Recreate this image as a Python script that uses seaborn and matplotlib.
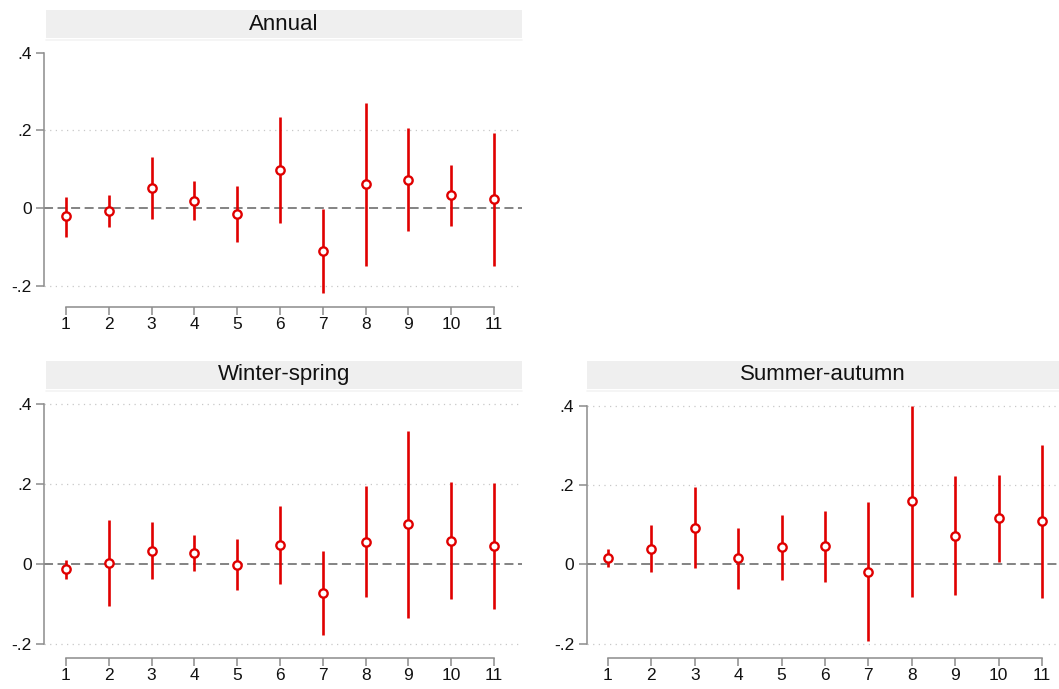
import numpy as np
import pandas as pd
import matplotlib
matplotlib.use("Agg")
import matplotlib.pyplot as plt
from matplotlib.patches import Rectangle
import seaborn as sns

sns.set_theme(style="white")
plt.rcParams["font.family"] = ["Liberation Sans", "DejaVu Sans"]

lags = list(range(1, 12))
tick_labels = [".4", ".2", "0", "-.2"]

annual_coef = [-0.021, -0.007, 0.051, 0.019, -0.015, 0.098, -0.111, 0.061, 0.073, 0.033, 0.022]
annual_lo = [-0.074, -0.048, -0.028, -0.031, -0.087, -0.038, -0.218, -0.149, -0.058, -0.045, -0.149]
annual_hi = [0.029, 0.033, 0.131, 0.069, 0.057, 0.235, -0.003, 0.271, 0.206, 0.111, 0.194]

winter_coef = [-0.013, 0.002, 0.033, 0.028, -0.002, 0.048, -0.072, 0.055, 0.099, 0.057, 0.044]
winter_lo = [-0.037, -0.106, -0.038, -0.018, -0.066, -0.051, -0.177, -0.084, -0.135, -0.089, -0.114]
winter_hi = [0.009, 0.111, 0.104, 0.073, 0.063, 0.145, 0.033, 0.195, 0.334, 0.205, 0.202]

summer_coef = [0.017, 0.040, 0.093, 0.016, 0.043, 0.046, -0.018, 0.161, 0.073, 0.117, 0.109]
summer_lo = [-0.007, -0.019, -0.008, -0.061, -0.039, -0.044, -0.192, -0.081, -0.078, 0.006, -0.084]
summer_hi = [0.039, 0.100, 0.195, 0.092, 0.125, 0.136, 0.158, 0.400, 0.224, 0.227, 0.302]

RED = "#e00000"
AXIS_GREY = "#8c8c8c"

W, H = 1059, 689
fig = plt.figure(figsize=(W / 100, H / 100), dpi=100)


def px_axes(left, right, top, bottom):
    return fig.add_axes([left / W, 1 - bottom / H, (right - left) / W, (bottom - top) / H])


def panel(name, coef, lo, hi, box, plot, xlim, x_offset_px, show_top_grid=True):
    # strip title
    bx0, bx1, by0, by1 = box
    fig.patches.append(Rectangle((bx0 / W, 1 - by1 / H), (bx1 - bx0) / W, (by1 - by0) / H,
                                 transform=fig.transFigure, facecolor="#efefef",
                                 edgecolor="none", zorder=0))
    fig.lines.append(plt.Line2D([bx0 / W, bx1 / W], [1 - (by1 + 1.5) / H] * 2,
                                transform=fig.transFigure, color="#f3f3f3", lw=1.2))
    fig.text((bx0 + bx1) / 2 / W, 1 - (by0 + by1) / 2 / H, name, ha="center", va="center",
             fontsize=16, color="#111111")

    left, right, top, bottom = plot
    ax = px_axes(left, right, top, bottom)
    df = pd.DataFrame({"lag": lags, "coef": coef, "lo": lo, "hi": hi})

    ax.set_xlim(*xlim)
    ax.set_ylim(-0.2, 0.4)

    grid_levels = [0.4, 0.2, -0.2] if show_top_grid else [0.2, -0.2]
    for g in grid_levels:
        ax.axhline(g, color="#c8c8c8", lw=0.9, ls=(0, (1, 3.5)), zorder=1, clip_on=False)
    ax.axhline(0, color="#7a7a7a", lw=1.3, ls=(0, (5, 2.5)), zorder=2, clip_on=False)

    ax.vlines(df["lag"], df["lo"], df["hi"], color=RED, lw=1.9, zorder=3, clip_on=False)
    sns.scatterplot(data=df, x="lag", y="coef", ax=ax, marker="o", s=36,
                    facecolor="white", edgecolor=RED, linewidth=1.7, zorder=4, clip_on=False)

    ax.set_xticks(lags)
    ax.set_xticklabels([str(v) for v in lags])
    ax.set_yticks([0.4, 0.2, 0.0, -0.2])
    ax.set_yticklabels(tick_labels)
    ax.set_xlabel("")
    ax.set_ylabel("")

    for s in ["top", "right"]:
        ax.spines[s].set_visible(False)
    ax.spines["left"].set_color(AXIS_GREY)
    ax.spines["left"].set_linewidth(1.1)
    ax.spines["left"].set_bounds(-0.2, 0.4)
    ax.spines["bottom"].set_color(AXIS_GREY)
    ax.spines["bottom"].set_linewidth(1.1)
    ax.spines["bottom"].set_bounds(1, 11)
    ax.spines["bottom"].set_position(("outward", x_offset_px * 0.72))

    ax.tick_params(axis="both", which="major", left=True, bottom=True,
                   length=5.5, width=1.1, color=AXIS_GREY, direction="out",
                   labelsize=12.5, labelcolor="#111111", pad=2)
    ax.tick_params(axis="y", pad=3.5)
    ax.patch.set_alpha(0)
    return ax


panel("Annual", annual_coef, annual_lo, annual_hi,
      box=(45.5, 522, 10, 38), plot=(44.3, 522, 52.7, 285.7),
      xlim=(1 - 21.7 / 42.8, 11 + 28 / 42.8), x_offset_px=21, show_top_grid=False)

panel("Winter-spring", winter_coef, winter_lo, winter_hi,
      box=(45.5, 522, 361, 389), plot=(44.3, 522, 404.3, 643.7),
      xlim=(1 - 21.7 / 42.8, 11 + 28 / 42.8), x_offset_px=14)

panel("Summer-autumn", summer_coef, summer_lo, summer_hi,
      box=(587, 1059, 361, 389), plot=(586.7, 1059, 406, 643.7),
      xlim=(1 - 21.3 / 43.4, 11 + 17 / 43.4), x_offset_px=14)

fig.savefig("out.png", dpi=100, facecolor="white")
